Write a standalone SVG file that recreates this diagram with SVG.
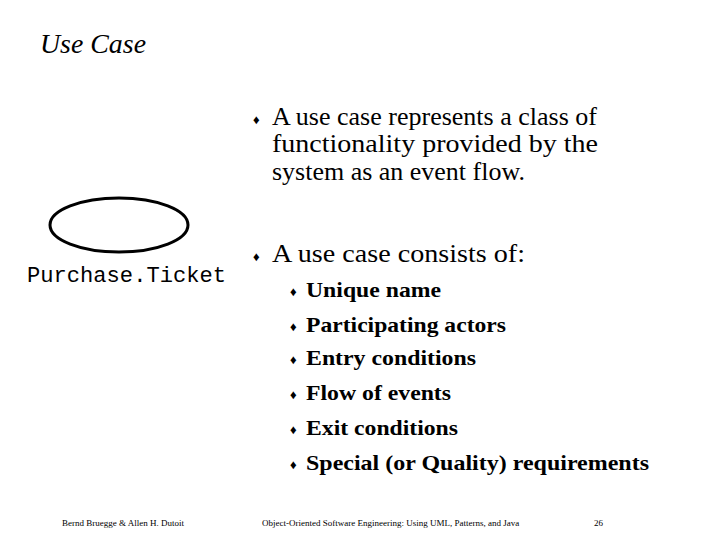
<svg xmlns="http://www.w3.org/2000/svg" width="720" height="540" viewBox="0 0 720 540">
<style>
.b{font-family:"Liberation Serif",serif;font-size:26px;fill:#000}
.s{font-family:"Liberation Serif",serif;font-size:22px;font-weight:bold;fill:#000}
.d{font-family:"Liberation Serif",serif;font-size:13px;fill:#000}
.f{font-family:"Liberation Serif",serif;font-size:9px;fill:#000}
</style>
<rect width="720" height="540" fill="#fff"/>
<text x="40" y="53" font-family="Liberation Serif,serif" font-size="27" font-style="italic" textLength="106" lengthAdjust="spacingAndGlyphs">Use Case</text>
<g id="usecase">
<ellipse cx="119" cy="225" rx="69" ry="27" fill="none" stroke="#000" stroke-width="3"/>
<text x="27" y="282" font-family="Liberation Mono,monospace" font-size="22" textLength="199" lengthAdjust="spacingAndGlyphs">Purchase.Ticket</text>
</g>
<g id="text">
<text class="d" x="253" y="124">♦</text>
<text class="b" x="272" y="125" textLength="325" lengthAdjust="spacingAndGlyphs">A use case represents a class of</text>
<text class="b" x="272" y="152" textLength="326" lengthAdjust="spacingAndGlyphs">functionality provided by the</text>
<text class="b" x="272" y="180" textLength="253" lengthAdjust="spacingAndGlyphs">system as an event flow.</text>
<text class="d" x="253" y="261">♦</text>
<text class="b" x="272" y="262" textLength="253" lengthAdjust="spacingAndGlyphs">A use case consists of:</text>
<g class="d"><text x="290" y="296">♦</text><text x="290" y="331">♦</text><text x="290" y="364">♦</text><text x="290" y="399">♦</text><text x="290" y="434">♦</text><text x="290" y="469">♦</text></g>
<text class="s" x="306" y="297" textLength="135" lengthAdjust="spacingAndGlyphs">Unique name</text>
<text class="s" x="306" y="332" textLength="200" lengthAdjust="spacingAndGlyphs">Participating actors</text>
<text class="s" x="306" y="365" textLength="170" lengthAdjust="spacingAndGlyphs">Entry conditions</text>
<text class="s" x="306" y="400" textLength="145" lengthAdjust="spacingAndGlyphs">Flow of events</text>
<text class="s" x="306" y="435" textLength="152" lengthAdjust="spacingAndGlyphs">Exit conditions</text>
<text class="s" x="306" y="470" textLength="343" lengthAdjust="spacingAndGlyphs">Special (or Quality) requirements</text>
</g>
<text class="f" x="62" y="526">Bernd Bruegge &amp; Allen H. Dutoit</text>
<text class="f" x="262" y="526">Object-Oriented Software Engineering: Using UML, Patterns, and Java</text>
<text class="f" x="594" y="526">26</text>
</svg>
